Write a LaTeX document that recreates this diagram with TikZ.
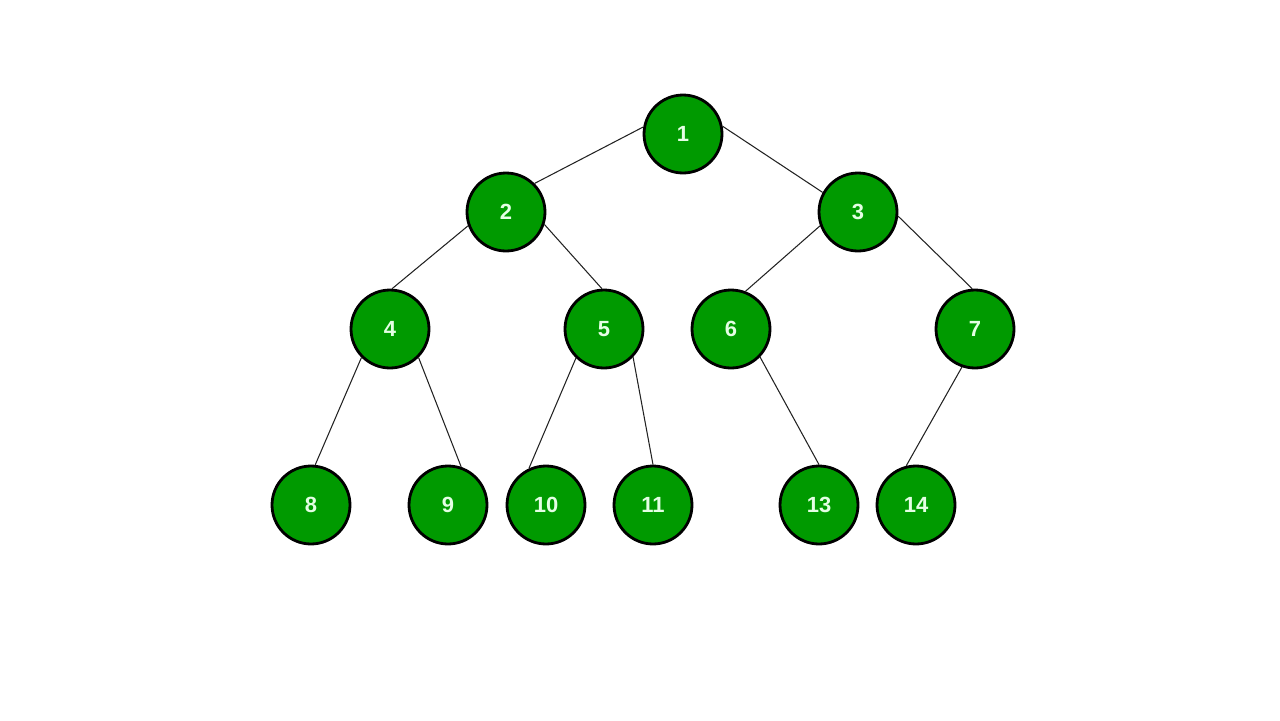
\documentclass[tikz,border=0pt]{standalone}
\usepackage{fontspec}
\setsansfont{Liberation Sans}
\usetikzlibrary{positioning}
\definecolor{treeGreen}{HTML}{009A00}
\definecolor{treeLabel}{HTML}{E4FFE4}
\definecolor{treeEdge}{HTML}{222222}

\begin{document}
\begin{tikzpicture}[x=0.02cm,y=-0.02cm,
      vert/.style={circle,draw=black,fill=treeGreen,line width=1.6pt,minimum size=1.56cm,inner sep=0pt,
        text=treeLabel,font=\sffamily\bfseries\fontsize{12.5}{14}\selectfont},
      link/.style={treeEdge,line width=0.6pt}]
    \useasboundingbox (0,0) rectangle (1280,720);
    % levels of the tree
    \node[vert] (n1) at (683,134) {1};
    \node[vert] (n2) at (506,212) {2};
    \node[vert] (n3) at (858,212) {3};
    \node[vert] (n4) at (390,329) {4};
    \node[vert] (n5) at (604,329) {5};
    \node[vert] (n6) at (731,329) {6};
    \node[vert] (n7) at (975,329) {7};
    \node[vert] (n8) at (311,505) {8};
    \node[vert] (n9) at (448,505) {9};
    \node[vert] (n10) at (546,505) {10};
    \node[vert] (n11) at (653,505) {11};
    \node[vert] (n13) at (819,505) {13};
    \node[vert] (n14) at (916,505) {14};
    % parent/child links
    \foreach \a/\sa/\b/\sb in {n1/170/n2/45,n1/11/n3/151,n2/200/n4/87,n2/342/n5/93,
        n3/200/n6/69,n3/354/n7/94,n4/225/n8/84,n4/315/n9/71,n5/226/n10/115,
        n5/316/n11/90,n6/316/n13/90,n7/251/n14/104}
      \draw[link] (\a.\sa) -- (\b.\sb);
  \end{tikzpicture}
\end{document}
